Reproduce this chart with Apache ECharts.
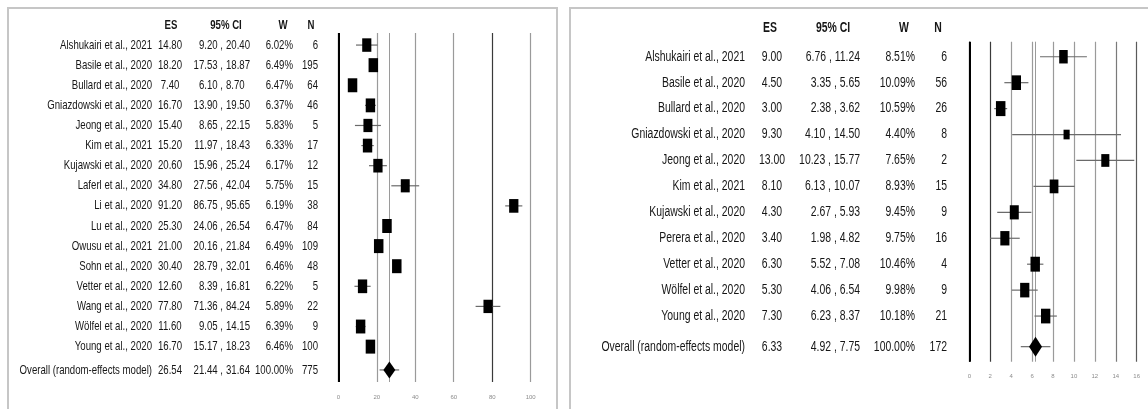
<!DOCTYPE html>
<html>
<head>
<meta charset="utf-8">
<script src="https://cdn.jsdelivr.net/npm/echarts@6/dist/echarts.min.js"></script>
<style>
  html, body { margin: 0; padding: 0; background: #ffffff; }
  #chart { width: 1148px; height: 409px; }
</style>
</head>
<body>
<div id="chart"></div>
<script>
// ---- Left forest plot: studies, effect sizes, 95% CI, weights, sample sizes ----
const studiesA = [
  'Alshukairi et al., 2021', 'Basile et al., 2020', 'Bullard et al., 2020', 'Gniazdowski et al., 2020',
  'Jeong et al., 2020', 'Kim et al., 2021', 'Kujawski et al., 2020', 'Laferl et al., 2020',
  'Li et al., 2020', 'Lu et al., 2020', 'Owusu et al., 2021', 'Sohn et al., 2020',
  'Vetter et al., 2020', 'Wang et al., 2020', 'Wölfel et al., 2020', 'Young et al., 2020'
];
const esA = [14.80, 18.20, 7.40, 16.70, 15.40, 15.20, 20.60, 34.80, 91.20, 25.30, 21.00, 30.40, 12.60, 77.80, 11.60, 16.70];
const loA = [9.20, 17.53, 6.10, 13.90, 8.65, 11.97, 15.96, 27.56, 86.75, 24.06, 20.16, 28.79, 8.39, 71.36, 9.05, 15.17];
const hiA = [20.40, 18.87, 8.70, 19.50, 22.15, 18.43, 25.24, 42.04, 95.65, 26.54, 21.84, 32.01, 16.81, 84.24, 14.15, 18.23];
const wA  = [6.02, 6.49, 6.47, 6.37, 5.83, 6.33, 6.17, 5.75, 6.19, 6.47, 6.49, 6.46, 6.22, 5.89, 6.39, 6.46];
const nA  = [6, 195, 64, 46, 5, 17, 12, 15, 38, 84, 109, 48, 5, 22, 9, 100];
const overallA = ['Overall (random-effects model)', 26.54, 21.44, 31.64, 100.00, 775];
const ticksA = [0, 20, 40, 60, 80, 100];

// ---- Right forest plot ----
const studiesB = [
  'Alshukairi et al., 2021', 'Basile et al., 2020', 'Bullard et al., 2020', 'Gniazdowski et al., 2020',
  'Jeong et al., 2020', 'Kim et al., 2021', 'Kujawski et al., 2020', 'Perera et al., 2020',
  'Vetter et al., 2020', 'Wölfel et al., 2020', 'Young et al., 2020'
];
const esB = [9.00, 4.50, 3.00, 9.30, 13.00, 8.10, 4.30, 3.40, 6.30, 5.30, 7.30];
const loB = [6.76, 3.35, 2.38, 4.10, 10.23, 6.13, 2.67, 1.98, 5.52, 4.06, 6.23];
const hiB = [11.24, 5.65, 3.62, 14.50, 15.77, 10.07, 5.93, 4.82, 7.08, 6.54, 8.37];
const wB  = [8.51, 10.09, 10.59, 4.40, 7.65, 8.93, 9.45, 9.75, 10.46, 9.98, 10.18];
const nB  = [6, 56, 26, 8, 2, 15, 9, 16, 4, 9, 21];
const overallB = ['Overall (random-effects model)', 6.33, 4.92, 7.75, 100.00, 172];
const ticksB = [0, 2, 4, 6, 8, 10, 12, 14, 16];

const headers = ['ES', '95% CI', 'W', 'N'];

// ---- Layout of each panel (pixels) ----
const layoutA = {
  grid: { left: 338.3, top: 33, width: 192.4, height: 349 },
  xMax: 100, xInterval: 20, overallGap: 1.16, yPad: 0.6,
  nameRight: 152, esCenter: 170, ciComma: 221, ciMode: 'comma', wRight: 293, nRight: 318,
  hdr: { es: 171, ci: 226, w: 283, n: 311 }, headerRow: -1,
  fontSize: 13, squeeze: 0.74,
  boxW: 9.5, boxH: 14, diaW: 6, diaH: 8.5,
  lineColors: ['#000000', '#9a9a9a', '#9a9a9a', '#9a9a9a', '#3a3a3a', '#9a9a9a'],
  tickY: 12
};
const layoutB = {
  grid: { left: 969.3, top: 41.7, width: 167.4, height: 320 },
  xMax: 16, xInterval: 2, overallGap: 1.18, yPad: 0.58,
  nameRight: 745, esCenter: 772, ciRight: 860, ciMode: 'right', wRight: 915, nRight: 947,
  hdr: { es: 770, ci: 833, w: 904, n: 938 }, headerRow: -1.1,
  fontSize: 14, squeeze: 0.745,
  boxW: 9.5, boxH: 15, diaW: 6.5, diaH: 10,
  lineColors: ['#000000', '#3a3a3a', '#9a9a9a', '#9a9a9a', '#9a9a9a', '#9a9a9a', '#9a9a9a', '#7a7a7a', '#5a5a5a'],
  tickY: 12
};

const FONT = '"Liberation Sans", Arial, sans-serif';
const TEXT_COLOR = '#161616';

function rowsOf(names, es, lo, hi, w, n, overall, gap) {
  // [rowPosition, es, lo, hi, weight, n, isOverall, index]
  const rows = names.map((_, i) => [i, es[i], lo[i], hi[i], w[i], n[i], 0, i]);
  rows.push([names.length - 1 + gap, overall[1], overall[2], overall[3], overall[4], overall[5], 1, -1]);
  return rows;
}

function textEl(str, x, y, align, L, bold) {
  return {
    type: 'text',
    x: x, y: y,
    scaleX: L.squeeze,
    style: {
      text: str, x: 0, y: 0,
      align: align, verticalAlign: 'middle',
      textAlign: align, textVerticalAlign: 'middle',
      fontFamily: FONT, fontSize: L.fontSize, fontWeight: bold ? 'bold' : 'normal',
      fill: TEXT_COLOR
    }
  };
}

function buildPanel(idx, names, es, lo, hi, w, n, overall, ticks, L) {
  const rows = rowsOf(names, es, lo, hi, w, n, overall, L.overallGap);
  const wMax = Math.max.apply(null, w);
  const lastPos = rows[rows.length - 1][0];

  const grid = Object.assign({ containLabel: false }, L.grid);
  const xAxis = {
    gridIndex: idx, type: 'value', min: 0, max: L.xMax, interval: L.xInterval,
    axisLine: { show: false }, axisTick: { show: false },
    axisLabel: {
      show: true, margin: L.tickY, fontSize: 6, color: '#8c8c8c', fontFamily: FONT,
      formatter: v => (ticks.indexOf(v) >= 0 ? String(v) : '')
    },
    splitLine: { show: true, lineStyle: { color: L.lineColors, width: 1.2 } }
  };
  const yAxis = {
    gridIndex: idx, type: 'value', inverse: true,
    min: -L.yPad, max: lastPos + L.yPad, show: false
  };

  const fmt2 = v => v.toFixed(2);

  // CI lines, weight boxes and the pooled diamond
  const marks = {
    type: 'custom', xAxisIndex: idx, yAxisIndex: idx, clip: false, silent: true,
    data: rows,
    encode: { x: 1, y: 0 },
    renderItem: function (params, api) {
      const pos = api.value(0);
      const c = api.coord([api.value(1), pos]);
      const xl = api.coord([api.value(2), pos])[0];
      const xh = api.coord([api.value(3), pos])[0];
      const children = [{
        type: 'line',
        shape: { x1: xl, y1: c[1], x2: xh, y2: c[1] },
        style: { stroke: '#6a6a6a', lineWidth: 1.2 }
      }];
      if (api.value(6) === 1) {
        children.push({
          type: 'polygon',
          shape: { points: [[c[0] - L.diaW, c[1]], [c[0], c[1] - L.diaH], [c[0] + L.diaW, c[1]], [c[0], c[1] + L.diaH]] },
          style: { fill: '#000000' }
        });
      } else {
        const s = Math.sqrt(api.value(4) / wMax);
        const bw = L.boxW * s, bh = L.boxH * s;
        children.push({
          type: 'rect',
          shape: { x: c[0] - bw / 2, y: c[1] - bh / 2, width: bw, height: bh },
          style: { fill: '#000000' }
        });
      }
      return { type: 'group', children: children };
    },
    markLine: {
      silent: true, symbol: 'none', label: { show: false }, animation: false,
      data: [
        { xAxis: 0, lineStyle: { color: '#000000', width: 2, type: 'solid' } },
        { xAxis: overall[1], lineStyle: { color: '#9a9a9a', width: 1, type: 'solid' } }
      ]
    },
    z: 5
  };

  // Table columns: study, ES, 95% CI, W, N
  const table = {
    type: 'custom', xAxisIndex: idx, yAxisIndex: idx, clip: false, silent: true,
    data: rows,
    encode: { x: 1, y: 0 },
    renderItem: function (params, api) {
      const pos = api.value(0);
      const y = api.coord([0, pos])[1];
      const i = api.value(7);
      const label = i < 0 ? overall[0] : names[i];
      const lo = fmt2(api.value(2)), hi = fmt2(api.value(3));
      const children = [
        textEl(label, L.nameRight, y, 'right', L),
        textEl(fmt2(api.value(1)), L.esCenter, y, 'center', L),
        textEl(fmt2(api.value(4)) + '%', L.wRight, y, 'right', L),
        textEl(String(api.value(5)), L.nRight, y, 'right', L)
      ];
      if (L.ciMode === 'comma') {
        children.push(textEl(lo + ' ,', L.ciComma + 2, y, 'right', L));
        children.push(textEl(hi, L.ciComma + 5, y, 'left', L));
      } else {
        children.push(textEl(lo + ' , ' + hi, L.ciRight, y, 'right', L));
      }
      return { type: 'group', children: children };
    }
  };

  // Column headings
  const head = {
    type: 'custom', xAxisIndex: idx, yAxisIndex: idx, clip: false, silent: true,
    data: [[0, L.headerRow]],
    encode: { x: 0, y: 1 },
    renderItem: function (params, api) {
      const y = api.coord([0, api.value(1)])[1];
      return {
        type: 'group',
        children: [
          textEl(headers[0], L.hdr.es, y, 'center', L, true),
          textEl(headers[1], L.hdr.ci, y, 'center', L, true),
          textEl(headers[2], L.hdr.w, y, 'center', L, true),
          textEl(headers[3], L.hdr.n, y, 'center', L, true)
        ]
      };
    }
  };

  return { grid, xAxis, yAxis, series: [marks, table, head] };
}

const pA = buildPanel(0, studiesA, esA, loA, hiA, wA, nA, overallA, ticksA, layoutA);
const pB = buildPanel(1, studiesB, esB, loB, hiB, wB, nB, overallB, ticksB, layoutB);

const chart = echarts.init(document.getElementById('chart'), null, { renderer: 'canvas' });
chart.setOption({
  animation: false,
  backgroundColor: '#ffffff',
  grid: [pA.grid, pB.grid],
  xAxis: [pA.xAxis, pB.xAxis],
  yAxis: [pA.yAxis, pB.yAxis],
  series: pA.series.concat(pB.series),
  graphic: [
    { type: 'rect', shape: { x: 8, y: 8, width: 549, height: 430 },
      style: { fill: 'none', stroke: '#c6c6c6', lineWidth: 2 }, z: 0 },
    { type: 'rect', shape: { x: 570, y: 8, width: 600, height: 430 },
      style: { fill: 'none', stroke: '#c6c6c6', lineWidth: 2 }, z: 0 }
  ]
});
</script>
</body>
</html>
